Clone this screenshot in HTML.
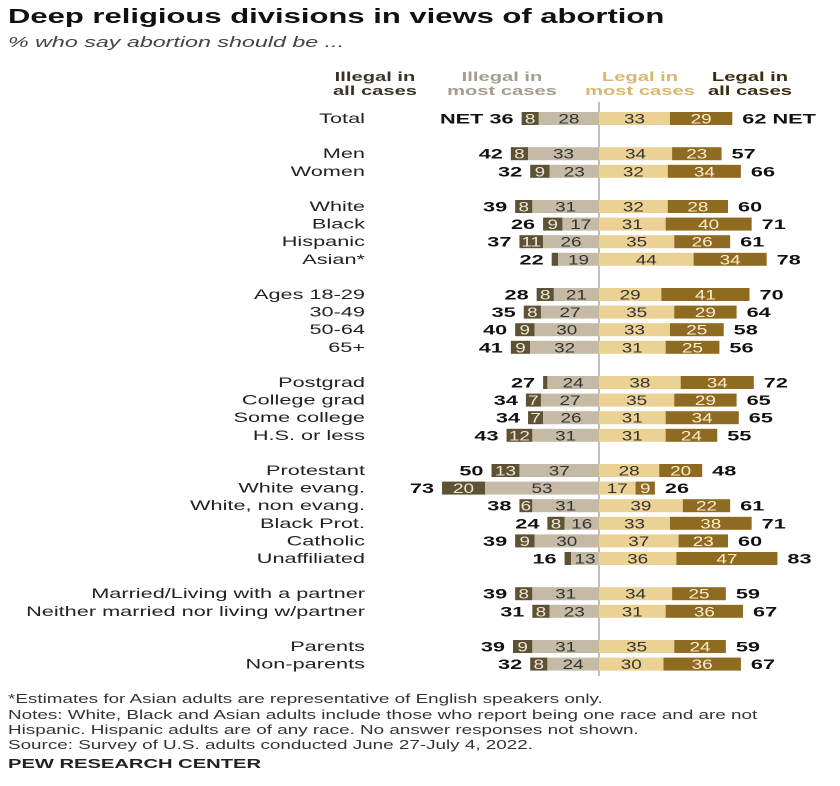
<!DOCTYPE html>
<html><head><meta charset="utf-8">
<style>
body{margin:0;background:#fff;width:840px;height:786px;overflow:hidden;font-family:"Liberation Sans",sans-serif;}
svg{display:block}
</style></head>
<body>
<svg id="chart" width="840" height="786">
<text x="8" y="23" font-size="20" font-weight="bold" fill="#111">Deep religious divisions in views of abortion</text>
<text x="8" y="47" font-size="15" font-style="italic" fill="#444">% who say abortion should be ...</text>
<g font-size="13" font-weight="bold" text-anchor="middle">
<text x="375" y="81" fill="#3a3326"><tspan x="375">Illegal in</tspan><tspan x="375" dy="14">all cases</tspan></text>
<text x="502" y="81" fill="#a49d8d"><tspan x="502">Illegal in</tspan><tspan x="502" dy="14">most cases</tspan></text>
<text x="640" y="81" fill="#d6b870"><tspan x="640">Legal in</tspan><tspan x="640" dy="14">most cases</tspan></text>
<text x="750" y="81" fill="#3a2c10"><tspan x="750">Legal in</tspan><tspan x="750" dy="14">all cases</tspan></text>
</g>
<line x1="599" y1="102" x2="599" y2="676" stroke="#aaa" stroke-width="1.5"/>
<g id="rows"></g>
<g font-size="13" fill="#333">
<text class="nt" x="8" y="703">*Estimates for Asian adults are representative of English speakers only.</text>
<text class="nt" x="8" y="719">Notes: White, Black and Asian adults include those who report being one race and are not</text>
<text class="nt" x="8" y="734">Hispanic. Hispanic adults are of any race. No answer responses not shown.</text>
<text class="nt" x="8" y="749">Source: Survey of U.S. adults conducted June 27-July 4, 2022.</text>
<text x="8" y="768" font-weight="bold" fill="#222">PEW RESEARCH CENTER</text>
</g>
</svg>
<script>
const categories=["Total","Men","Women","White","Black","Hispanic","Asian*","Ages 18-29","30-49","50-64","65+","Postgrad","College grad","Some college","H.S. or less","Protestant","White evang.","White, non evang.","Black Prot.","Catholic","Unaffiliated","Married/Living with a partner","Neither married nor living w/partner","Parents","Non-parents"];
const illegalAll=[8,8,9,8,9,11,3,8,8,9,9,2,7,7,12,13,20,6,8,9,3,8,8,9,8];
const illegalMost=[28,33,23,31,17,26,19,21,27,30,32,24,27,26,31,37,53,31,16,30,13,31,23,31,24];
const legalMost=[33,34,32,32,31,35,44,29,35,33,31,38,35,31,31,28,17,39,33,37,36,34,31,35,30];
const legalAll=[29,23,34,28,40,26,34,41,29,25,25,34,29,34,24,20,9,22,38,23,47,25,36,24,36];
const netIllegal=[36,42,32,39,26,37,22,28,35,40,41,27,34,34,43,50,73,38,24,39,16,39,31,39,32];
const netLegal=[62,57,66,60,71,61,78,70,64,58,56,72,65,65,55,48,26,61,71,60,83,59,67,59,67];
const groups=[0,1,1,2,2,2,2,3,3,3,3,4,4,4,4,5,5,5,5,5,5,6,6,7,7];
const cx=599, k=2.15, rowH=17.6, gapH=17.6, y0=112;
const NS="http://www.w3.org/2000/svg";
const g=document.getElementById('rows');
function X(v){return v*k;}
function mk(tag,attrs){const e=document.createElementNS(NS,tag);for(const a in attrs)e.setAttribute(a,attrs[a]);return e;}
let y=y0;
categories.forEach((c,i)=>{
  if(i>0){y+=rowH; if(groups[i]!==groups[i-1]) y+=gapH;}
  const row=mk('g',{});
  
  
  const lbl=mk('text',{x:365,y:y+11,'font-size':14,'text-anchor':'end',fill:'#222'});
  lbl.textContent=c;
  
  
  row.appendChild(lbl);
  const segs=[
    {x:cx-X(illegalMost[i])-X(illegalAll[i]),w:X(illegalAll[i]),v:illegalAll[i],f:'#5f5234',t:'#ece6d6',n:'bar-illegal-all'},
    {x:cx-X(illegalMost[i]),w:X(illegalMost[i]),v:illegalMost[i],f:'#c4baa5',t:'#333',n:'bar-illegal-most'},
    {x:cx,w:X(legalMost[i]),v:legalMost[i],f:'#ebd193',t:'#333',n:'bar-legal-most'},
    {x:cx+X(legalMost[i]),w:X(legalAll[i]),v:legalAll[i],f:'#8e6b20',t:'#fbeed0',n:'bar-legal-all'}];
  segs.forEach(s=>{
    const r=mk('rect',{x:s.x,y:y,width:s.w,height:13,fill:s.f});
    
    
    row.appendChild(r);
    if(s.v>=5){
      const t=mk('text',{x:s.x+s.w/2,y:y+11.5,'font-size':13.5,'text-anchor':'middle',fill:s.t,'class':'bv'});
      t.textContent=s.v;
      
      
      row.appendChild(t);
    }
  });
  const left=cx-X(illegalMost[i]+illegalAll[i]);
  const right=cx+X(legalMost[i]+legalAll[i]);
  const nl=mk('text',{x:left-8,y:y+11.5,'font-size':14,'font-weight':'bold','text-anchor':'end',fill:'#111'});
  nl.textContent=(i===0?'NET  ':'')+netIllegal[i];
  
  
  row.appendChild(nl);
  const nr=mk('text',{x:right+10,y:y+11.5,'font-size':14,'font-weight':'bold',fill:'#111'});
  nr.textContent=netLegal[i]+(i===0?' NET':'');
  
  
  row.appendChild(nr);
  g.appendChild(row);
});
// widen text to match reference's wide typeface
document.querySelectorAll('svg text').forEach(t=>{
  const f=t.classList.contains('bv')?1.4:(t.classList.contains('nt')?1.45:1.55);
  const tsp=t.querySelectorAll('tspan');
  if(tsp.length){tsp.forEach(s=>{const L=s.getComputedTextLength();s.setAttribute('textLength',L*f);s.setAttribute('lengthAdjust','spacingAndGlyphs');});}
  else{const L=t.getComputedTextLength();t.setAttribute('textLength',L*f);t.setAttribute('lengthAdjust','spacingAndGlyphs');}
});
</script>
</body></html>
